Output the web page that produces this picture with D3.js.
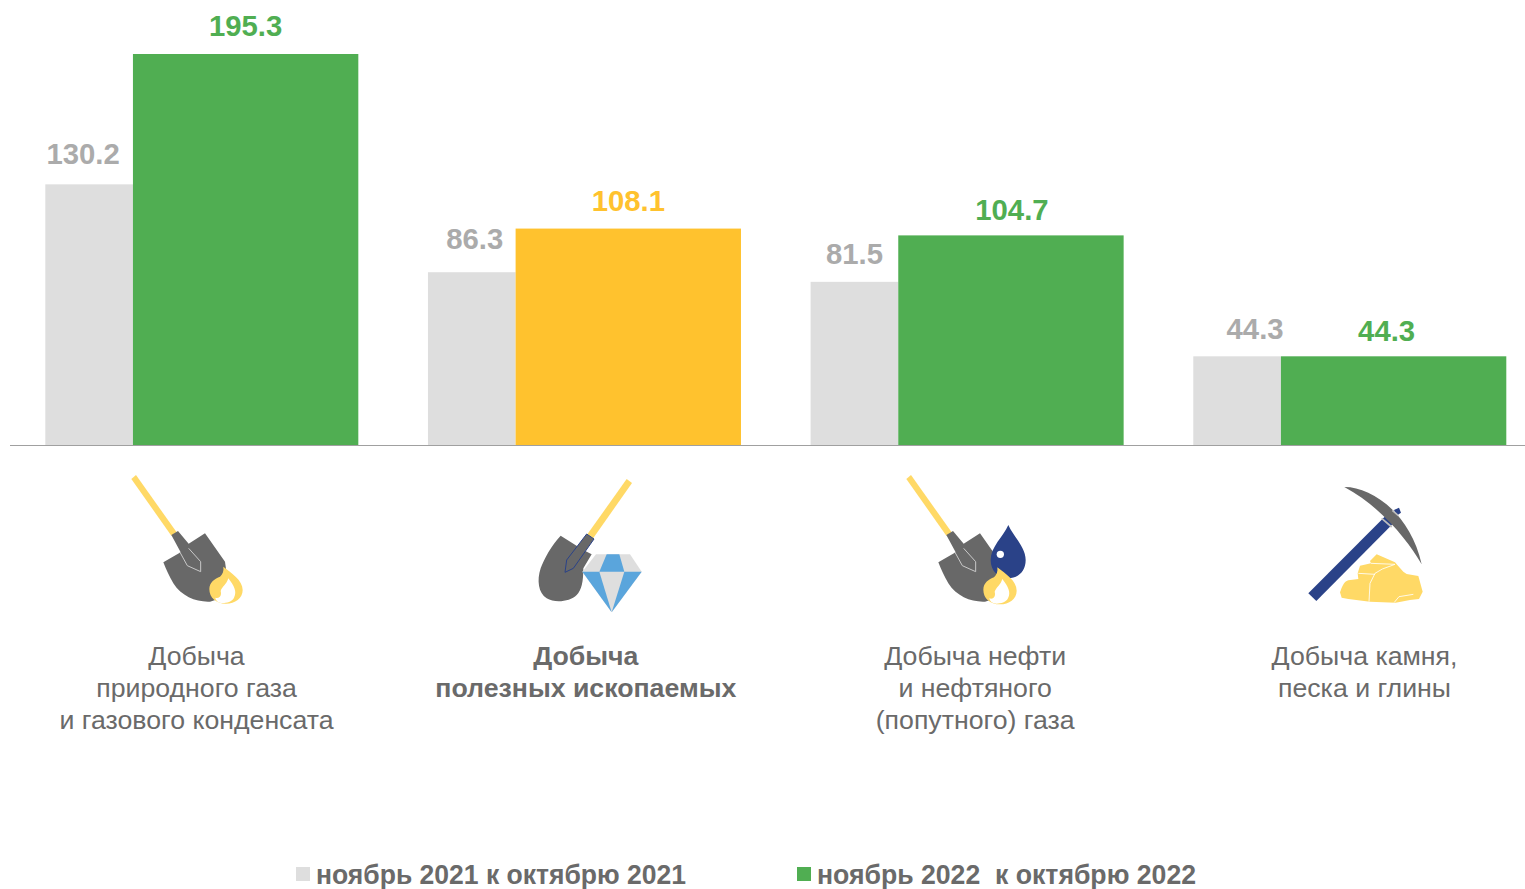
<!DOCTYPE html>
<html>
<head>
<meta charset="utf-8">
<title>Добыча</title>
<script src="https://cdn.jsdelivr.net/npm/d3@7"></script>
<style>
  html, body { margin: 0; padding: 0; background: #fff; }
  svg { display: block; }
  text { font-family: "Liberation Sans", Arial, sans-serif; }
</style>
</head>
<body>
<div id="chart"></div>
<script>
// Chart data
const categories = ["gas", "minerals", "oil", "stone"];
const categoryLines = [
  ["Добыча", "природного газа", "и газового конденсата"],
  ["Добыча", "полезных ископаемых"],
  ["Добыча нефти", "и нефтяного", "(попутного) газа"],
  ["Добыча камня,", "песка и глины"]
];
const values2021 = [130.2, 86.3, 81.5, 44.3];
const values2022 = [195.3, 108.1, 104.7, 44.3];
const seriesNames = ["ноябрь 2021 к октябрю 2021", "ноябрь 2022  к октябрю 2022"];

const width = 1525;
const height = 889;
const baseY = 445;

const grey = "#DEDEDE";
const green = "#50AE52";
const amber = "#FFC22E";
const greyText = "#ABABAB";
const darkText = "#6A6A6A";
const sand = "#FFD966";
const shovelGrey = "#686868";
const navy = "#2A4288";
const sky = "#5AA5DC";

const colors2022 = [green, amber, green, green];

const svg = d3.select("#chart")
  .append("svg")
  .attr("width", width)
  .attr("height", height)
  .attr("viewBox", [0, 0, width, height]);

// the scale runs from the axis (0) up to the top of the tallest bar
const yScale = d3.scaleLinear()
  .domain([0, 195.3])
  .range([baseY, 54]);

const xScale = d3.scaleBand()
  .domain(categories)
  .range([45.3, 1506.3])
  .paddingInner(0.182);

// inside one group the grey bar takes about 28% of the band
const innerScale = d3.scaleLinear()
  .domain([0, 1])
  .range([0, xScale.bandwidth()]);
const split = 0.28;

// labels under the icons are not centered on the bars in the original
const labelScale = d3.scalePoint()
  .domain(categories)
  .range([196.5, 1364.5]);

// grey bars
svg.selectAll(".bar2021")
  .data(values2021)
  .enter()
  .append("rect")
  .attr("class", "bar2021")
  .attr("x", (d, i) => xScale(categories[i]))
  .attr("y", d => yScale(d))
  .attr("width", innerScale(split))
  .attr("height", d => baseY - yScale(d))
  .attr("fill", grey);

// coloured bars
svg.selectAll(".bar2022")
  .data(values2022)
  .enter()
  .append("rect")
  .attr("class", "bar2022")
  .attr("x", (d, i) => xScale(categories[i]) + innerScale(split))
  .attr("y", d => yScale(d))
  .attr("width", innerScale(1 - split))
  .attr("height", d => baseY - yScale(d))
  .attr("fill", (d, i) => colors2022[i]);

// base line
svg.append("line")
  .attr("x1", 10)
  .attr("x2", width)
  .attr("y1", baseY + 0.5)
  .attr("y2", baseY + 0.5)
  .attr("stroke", "#A0A0A0")
  .attr("stroke-width", 1.2);

// value labels were moved by hand in the original, so each has a small nudge
const nudge2021 = [[-6, -20], [3, -23], [0, -18], [18, -17]];
const nudge2022 = [[0, -18], [0, -18], [1, -15], [-7, -15]];

svg.selectAll(".label2021")
  .data(values2021)
  .enter()
  .append("text")
  .attr("class", "label2021")
  .attr("x", (d, i) => xScale(categories[i]) + innerScale(split) / 2 + nudge2021[i][0])
  .attr("y", (d, i) => yScale(d) + nudge2021[i][1])
  .attr("text-anchor", "middle")
  .attr("font-size", 29.3)
  .attr("font-weight", "bold")
  .attr("fill", greyText)
  .text(d => d.toFixed(1));

svg.selectAll(".label2022")
  .data(values2022)
  .enter()
  .append("text")
  .attr("class", "label2022")
  .attr("x", (d, i) => xScale(categories[i]) + innerScale(split) + innerScale(1 - split) / 2 + nudge2022[i][0])
  .attr("y", (d, i) => yScale(d) + nudge2022[i][1])
  .attr("text-anchor", "middle")
  .attr("font-size", 29.3)
  .attr("font-weight", "bold")
  .attr("fill", (d, i) => colors2022[i])
  .text(d => d.toFixed(1));

// category names
categoryLines.forEach((lines, i) => {
  svg.selectAll(".cat" + i)
    .data(lines)
    .enter()
    .append("text")
    .attr("class", "cat" + i)
    .attr("x", labelScale(categories[i]))
    .attr("y", (d, j) => 665 + j * 32)
    .attr("text-anchor", "middle")
    .attr("font-size", 26.7)
    .attr("font-weight", i === 1 ? "bold" : "normal")
    .attr("fill", darkText)
    .text(d => d);
});

// legend, the text is squeezed narrower in the original
const legendX = [296, 797];
const legendColors = [grey, green];
const legendTextWidth = [370, 379];
svg.selectAll(".legendBox")
  .data(seriesNames)
  .enter()
  .append("rect")
  .attr("class", "legendBox")
  .attr("x", (d, i) => legendX[i])
  .attr("y", 867)
  .attr("width", 14)
  .attr("height", 14)
  .attr("fill", (d, i) => legendColors[i]);

svg.selectAll(".legendText")
  .data(seriesNames)
  .enter()
  .append("text")
  .attr("class", "legendText")
  .attr("x", (d, i) => legendX[i] + 20)
  .attr("y", 884)
  .attr("font-size", 28)
  .attr("font-weight", "bold")
  .attr("fill", darkText)
  .attr("textLength", (d, i) => legendTextWidth[i])
  .attr("lengthAdjust", "spacingAndGlyphs")
  .style("white-space", "pre")
  .text(d => d);

/*
  Icons
  paths are in 3x crop coordinates, so each group gets scale(1/3)
*/
function addIcon(x, y) {
  return svg.append("g").attr("transform", `translate(${x},${y}) scale(${1 / 3})`);
}

function addPath(g, d, fill, stroke, strokeWidth) {
  return g.append("path")
    .attr("d", d)
    .attr("fill", fill || "none")
    .attr("stroke", stroke || "none")
    .attr("stroke-width", strokeWidth || 0)
    .attr("stroke-linejoin", "round");
}

function drawShovel(g) {
  addPath(g, "M64,42 L78,30 L200,202 L184,212 Z", sand);
  addPath(g, "M160,292 L212,262 L184,210 L204,198 L236,236 L285,205 L345,290 L352,340 L345,395 L300,410 C260,412 215,395 190,355 C178,335 168,312 160,292 Z", shovelGrey);
  addPath(g, "M236,250 L272,290 L272,320 L232,302 L210,262", "none", "#C9C9C9", 3);
}

function drawFlame(g, dx, dy) {
  const f = g.append("g").attr("transform", `translate(${dx},${dy})`);
  addPath(f, "M340,305 C365,325 398,345 398,375 C398,400 375,416 348,416 C318,416 298,398 298,372 C298,352 315,340 330,335 C338,328 342,318 340,305 Z", sand);
  addPath(f, "M355,340 C372,362 382,380 372,398 C366,410 350,414 338,414 C326,414 318,408 316,398 C328,402 336,392 332,378 C336,365 350,358 355,340 Z", "#fff");
}

// icon 1: shovel and gas flame
const icon1 = addIcon(110, 465);
drawShovel(icon1);
drawFlame(icon1, 0, 0);

// icon 2: shovel and diamond
const icon2 = addIcon(520, 465);
addPath(icon2, "M320,42 L336,54 L218,222 L202,208 Z", sand);
addPath(icon2, "M122,212 L190,255 L215,268 L190,310 C190,350 185,375 170,390 C150,410 105,415 80,400 C55,385 50,345 62,310 C72,282 95,240 122,212 Z", shovelGrey);
addPath(icon2, "M200,207 L222,222 L160,310 L135,322 L140,285 Z", shovelGrey, navy, 3);
addPath(icon2, "M228,268 L330,268 L365,320 L275,442 L187,320 Z", grey);
addPath(icon2, "M260,268 L298,268 L313,320 L238,320 Z", sky);
addPath(icon2, "M187,320 L238,320 L275,442 Z", sky);
addPath(icon2, "M313,320 L365,320 L275,442 Z", sky);

// icon 3: shovel, oil drop and flame
const icon3 = addIcon(895, 465);
icon3.append("g").attr("transform", "translate(-30,0)").call(drawShovel);
addPath(icon3, "M340,180 C355,215 392,245 392,285 C392,320 368,340 340,340 C310,340 287,318 287,285 C287,245 325,215 340,180 Z", navy);
icon3.append("circle").attr("cx", 316).attr("cy", 268).attr("r", 11).attr("fill", "#fff");
drawFlame(icon3, -33, 2);

// icon 4: pick and stones
const icon4 = addIcon(1295, 475);
addPath(icon4, "M40,355 L272,122 L296,144 L64,378 Z", navy);
addPath(icon4, "M297,105 L312,98 L318,113 L305,122 Z", navy);
addPath(icon4, "M148,36 C225,35 345,110 380,268 C340,200 265,100 148,36 Z", shovelGrey);
addPath(icon4, "M260,130 L290,156 M292,106 L310,122", "none", "#BDBDBD", 5);
addPath(icon4, "M135,352 C140,340 145,320 160,316 L190,312 L188,295 L195,272 L228,265 L225,258 L245,238 L300,262 L305,268 L325,290 L335,297 L370,303 L376,325 L383,350 L372,372 L345,375 L302,383 L225,380 L160,372 L140,368 Z", sand);
addPath(icon4, "M300,268 L262,282 L240,295 L225,325 L222,380 M190,295 L240,298 M298,382 L312,365 L355,358 M228,265 L300,268", "none", "#fff", 2.5);
</script>
</body>
</html>
